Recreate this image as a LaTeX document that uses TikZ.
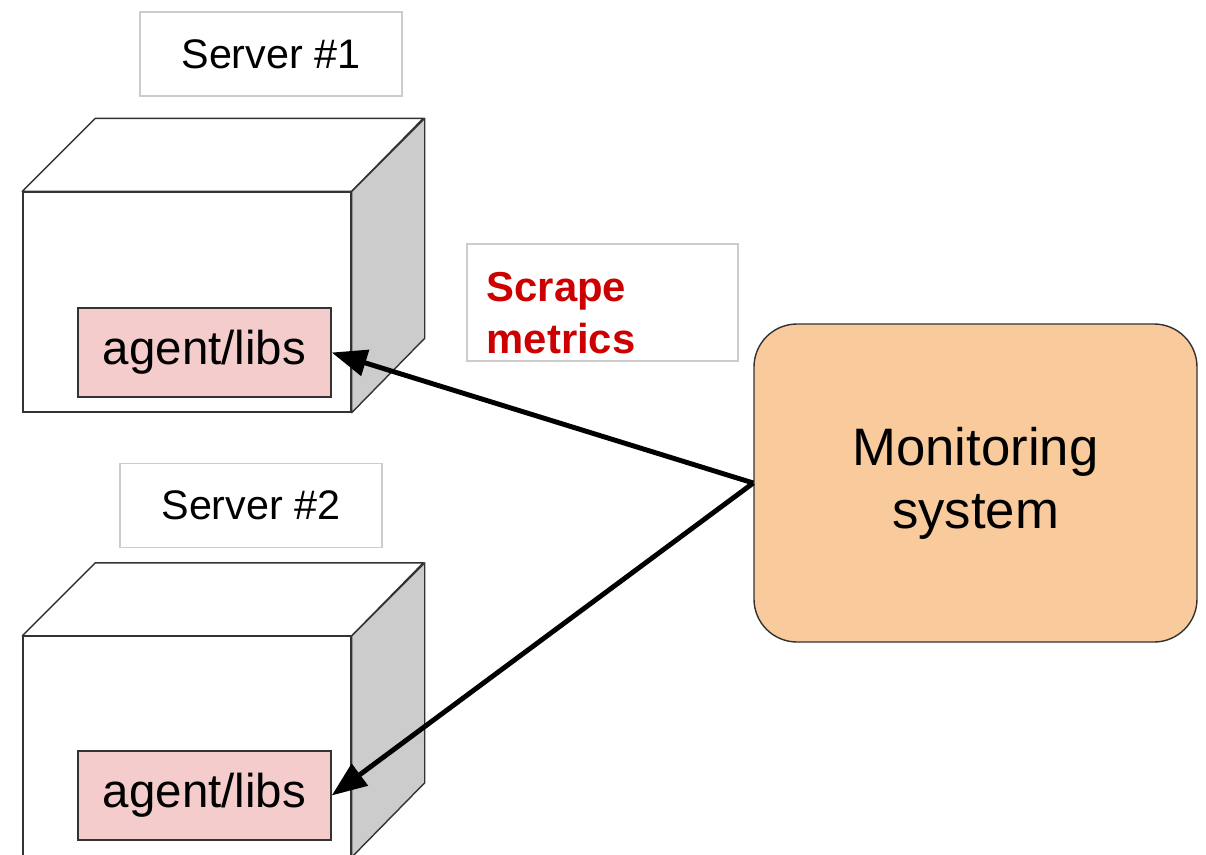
\documentclass[tikz,border=0pt]{standalone}
\usepackage{fontspec}
\setmainfont{Liberation Sans}
\usetikzlibrary{arrows.meta}

\definecolor{edgegray}{HTML}{333333}
\definecolor{boxgray}{HTML}{CCCCCC}
\definecolor{sidegray}{HTML}{CCCCCC}
\definecolor{agentpink}{HTML}{F4CCCC}
\definecolor{monorange}{HTML}{F9CB9C}
\definecolor{scrapered}{HTML}{CC0000}

\begin{document}
\begin{tikzpicture}
[
	lbl/.style={rectangle,draw=boxgray,line width=0.8,minimum width=5.24cm,minimum height=1.68cm,font=\fontsize{23.5}{28}\selectfont},
	front/.style={rectangle,draw=edgegray,fill=white,line width=0.8,minimum width=6.56cm,minimum height=4.4cm},
	cube/.style={draw=edgegray,fill=white,line width=0.8,line join=round},
	side/.style={draw=edgegray,fill=sidegray,line width=0.8,line join=round},
	ag/.style={rectangle,draw=edgegray,fill=agentpink,line width=0.8,minimum width=5.06cm,minimum height=1.78cm,font=\fontsize{27}{32}\selectfont},
	mon/.style={rectangle,rounded corners=0.86cm,draw=edgegray,fill=monorange,line width=0.8,minimum width=8.86cm,minimum height=6.36cm,align=center,font=\fontsize{30}{36}\selectfont},
	note/.style={rectangle,draw=boxgray,line width=0.8,minimum width=5.42cm,minimum height=2.34cm},
	notetxt/.style={inner sep=0,align=left,text=scrapered,font=\fontsize{23.8}{29.5}\selectfont\bfseries},
	arr/.style={draw=black,line width=2.8,-{Triangle[length=20pt,width=15pt]}}
]

\useasboundingbox (0,0) rectangle (24.12,-17.08);

% server 1
\node[lbl] (name1) at (5.42,-1.08) {Server \#1};
\node[front] (box1) at (3.74,-6.04) {};
\draw[cube] (box1.north west) -- ++(1.46,1.46) -- ++(6.56,0) -- (box1.north east) -- cycle;
\draw[side] (box1.north east) -- ++(1.46,1.46) -- ++(0,-4.4) -- (box1.south east) -- cycle;
\node[ag] (ag1) at (4.09,-7.05) {agent/libs};

% server 2
\node[lbl] (name2) at (5.02,-10.11) {Server \#2};
\node[front] (box2) at (3.74,-14.93) {};
\draw[cube] (box2.north west) -- ++(1.46,1.46) -- ++(6.56,0) -- (box2.north east) -- cycle;
\draw[side] (box2.north east) -- ++(1.46,1.46) -- ++(0,-4.4) -- (box2.south east) -- cycle;
\node[ag] (ag2) at (4.09,-15.91) {agent/libs};

\node[note] (scrape) at (12.05,-6.05) {};
\node[notetxt,anchor=west] (scrapetxt) at ([xshift=0.4cm,yshift=-0.22cm]scrape.west) {Scrape\\metrics};

\node[mon] (mon) at (19.51,-9.66) {Monitoring\\system};

\draw[arr] (mon.west) -- (ag1.east);
\draw[arr] (mon.west) -- (ag2.east);

\end{tikzpicture}
\end{document}
